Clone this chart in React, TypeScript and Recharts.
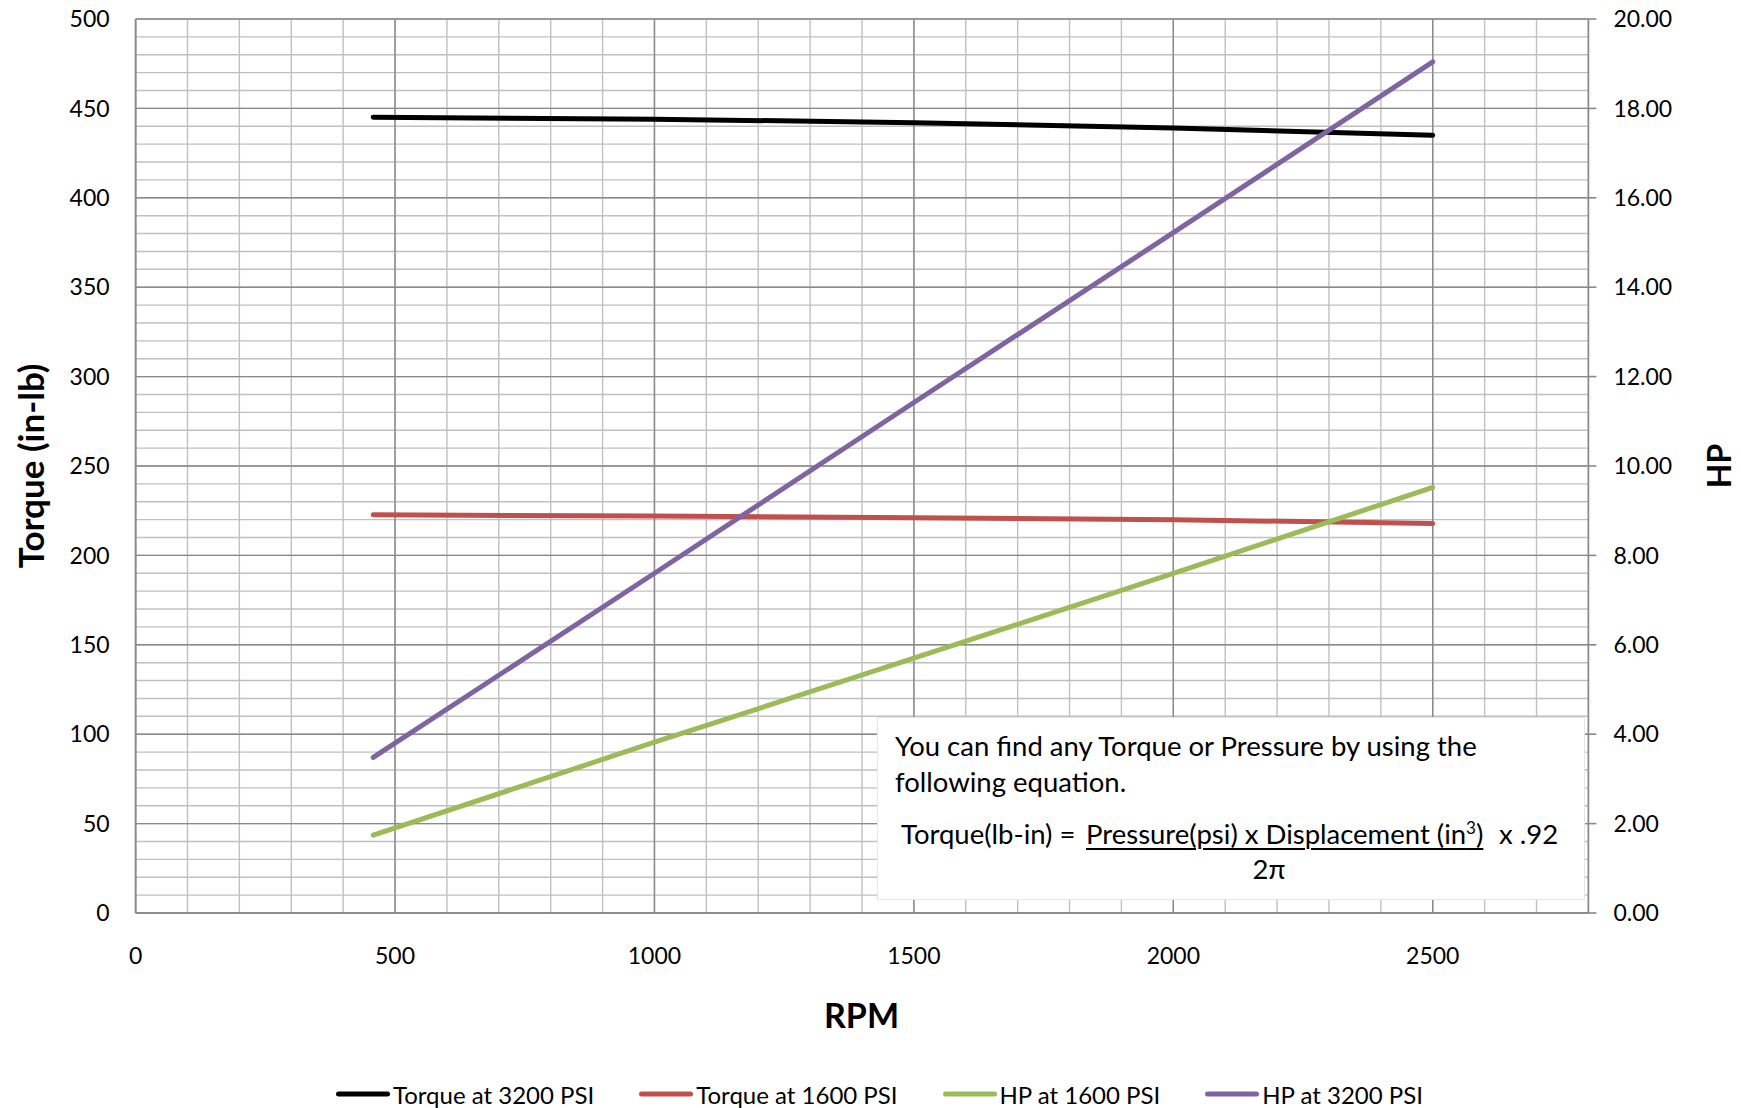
import React from "react";
import { LineChart, Line, XAxis, YAxis, CartesianGrid } from "recharts";

const rpm = [458, 1000, 1500, 2000, 2500];
const torque3200 = [445, 444, 442, 439, 435];
const torque1600 = [222.7, 222, 221, 220, 217.8];
const hp1600 = [1.74, 3.82, 5.7, 7.6, 9.52];
const hp3200 = [3.48, 7.6, 11.42, 15.22, 19.04];

const xTicks = [0, 500, 1000, 1500, 2000, 2500];
const leftTicks = [0, 50, 100, 150, 200, 250, 300, 350, 400, 450, 500];
const rightTicks = [0, 2, 4, 6, 8, 10, 12, 14, 16, 18, 20];

const seriesNames = ["Torque at 3200 PSI", "Torque at 1600 PSI", "HP at 1600 PSI", "HP at 3200 PSI"];
const seriesKeys = ["t3200", "t1600", "hp1600", "hp3200"];
const seriesColors = ["#000000", "#c0504d", "#9bbb59", "#8064a2"];
const seriesAxis = ["left", "left", "right", "right"];

const data = rpm.map((r, i) => ({
  rpm: r,
  t3200: torque3200[i],
  t1600: torque1600[i],
  hp1600: hp1600[i],
  hp3200: hp3200[i],
}));

const xMinor: number[] = [];
for (let v = 0; v <= 2800; v += 100) xMinor.push(v);
const yMinor: number[] = [];
for (let v = 0; v <= 500; v += 10) yMinor.push(v);

const FONT = "Lato, 'Liberation Sans', sans-serif";
const W = 1741;
const H = 1108;

export default function App() {
  return (
    <div style={{ position: "absolute", left: 0, top: 0, width: W, height: H, background: "#fff", fontFamily: FONT }}>
      <LineChart
        width={W}
        height={H}
        data={data}
        margin={{ top: 19, left: 35.6, right: 52.6, bottom: 135 }}
      >
        <CartesianGrid
          yAxisId="left"
          horizontalValues={yMinor}
          verticalValues={xMinor}
          stroke="#c0c0c0"
          strokeWidth={1.4}
        />
        <CartesianGrid
          yAxisId="left"
          horizontalValues={leftTicks}
          verticalValues={xTicks}
          stroke="#898989"
          strokeWidth={1.4}
        />
        <XAxis
          dataKey="rpm"
          type="number"
          domain={[0, 2800]}
          ticks={xTicks}
          height={60}
          tickSize={0}
          tickMargin={35}
          axisLine={{ stroke: "#898989", strokeWidth: 1.6 }}
          tick={{ fill: "#000", fontSize: 23, fontFamily: FONT }}
          interval={0}
        />
        <YAxis
          yAxisId="left"
          orientation="left"
          domain={[0, 500]}
          ticks={leftTicks}
          width={100}
          tickSize={0}
          tickMargin={26}
          axisLine={{ stroke: "#898989", strokeWidth: 1.6 }}
          tick={{ fill: "#000", fontSize: 23, fontFamily: FONT }}
          interval={0}
        />
        <YAxis
          yAxisId="right"
          orientation="right"
          domain={[0, 20]}
          ticks={rightTicks}
          width={100}
          tickSize={8}
          tickMargin={17}
          tickLine={{ stroke: "#898989", strokeWidth: 1.6 }}
          axisLine={{ stroke: "#898989", strokeWidth: 1.6 }}
          tick={{ fill: "#000", fontSize: 23, fontFamily: FONT, textAnchor: "start" }}
          tickFormatter={(v: number) => v.toFixed(2)}
          interval={0}
        />
        {seriesKeys.map((k, i) => (
          <Line
            key={k}
            yAxisId={seriesAxis[i]}
            dataKey={k}
            name={seriesNames[i]}
            type="linear"
            stroke={seriesColors[i]}
            strokeWidth={5}
            strokeLinecap="round"
            dot={false}
            activeDot={false}
            isAnimationActive={false}
          />
        ))}
      </LineChart>

      {/* Axis titles */}
      <div
        style={{
          position: "absolute",
          left: 30,
          top: 466,
          transform: "translate(-50%, -50%) rotate(-90deg)",
          fontWeight: 700,
          fontSize: 35,
          whiteSpace: "nowrap",
          color: "#000",
        }}
      >
        Torque (in-lb)
      </div>
      <div
        style={{
          position: "absolute",
          left: 861.5,
          top: 1014,
          transform: "translate(-50%, -50%)",
          fontWeight: 700,
          fontSize: 34,
          whiteSpace: "nowrap",
          color: "#000",
        }}
      >
        RPM
      </div>
      <div
        style={{
          position: "absolute",
          left: 1718,
          top: 466,
          transform: "translate(-50%, -50%) rotate(-90deg)",
          fontWeight: 700,
          fontSize: 32,
          whiteSpace: "nowrap",
          color: "#000",
        }}
      >
        HP
      </div>

      {/* Text box */}
      <div
        style={{
          position: "absolute",
          left: 877,
          top: 717,
          width: 708,
          height: 183,
          background: "#fff",
          border: "1px solid #e6e6e6",
          boxSizing: "border-box",
          fontSize: 27.5,
          color: "#000",
          lineHeight: "30px",
        }}
      >
        <div style={{ position: "absolute", left: 17, top: 13, whiteSpace: "nowrap" }}>
          You can find any Torque or Pressure by using the
        </div>
        <div style={{ position: "absolute", left: 17, top: 49, whiteSpace: "nowrap" }}>
          following equation.
        </div>
        <div style={{ position: "absolute", left: 23, top: 101, whiteSpace: "nowrap" }}>
          Torque(lb-in) =
        </div>
        <div
          style={{
            position: "absolute",
            left: 208,
            top: 101,
            whiteSpace: "nowrap",
            textDecoration: "underline",
            textDecorationThickness: 2,
            textUnderlineOffset: 4,
          }}
        >
          Pressure(psi) x Displacement (in<sup style={{ fontSize: 17, lineHeight: 0 }}>3</sup>)
        </div>
        <div style={{ position: "absolute", left: 621, top: 101, whiteSpace: "nowrap" }}>x .92</div>
        <div
          style={{
            position: "absolute",
            left: 391,
            top: 136,
            transform: "translateX(-50%)",
            whiteSpace: "nowrap",
          }}
        >
          2π
        </div>
      </div>

      {/* Legend */}
      <div
        style={{
          position: "absolute",
          left: 336,
          top: 1094,
          transform: "translateY(-50%)",
          display: "flex",
          alignItems: "center",
          fontSize: 24,
          color: "#000",
          whiteSpace: "nowrap",
        }}
      >
        {seriesNames.map((n, i) => (
          <div key={n} style={{ display: "flex", alignItems: "center", marginRight: 45 }}>
            <div style={{ width: 54, height: 5, borderRadius: 3, background: seriesColors[i], marginRight: 3 }} />
            <span>{n}</span>
          </div>
        ))}
      </div>
    </div>
  );
}
